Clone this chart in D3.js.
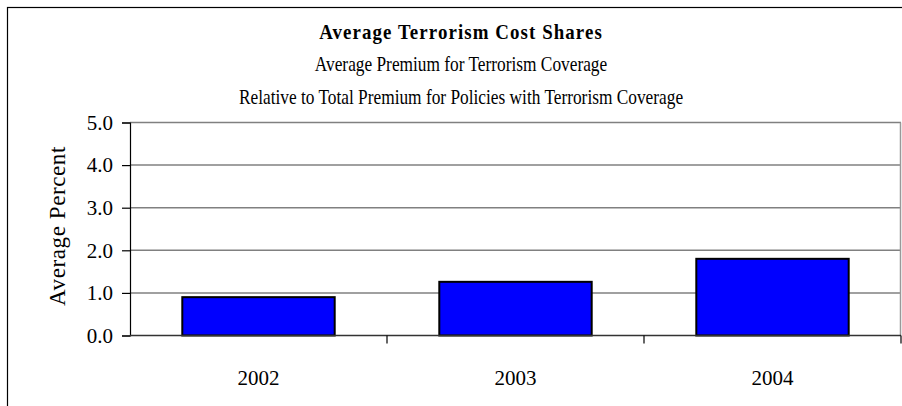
<!DOCTYPE html>
<html><head><meta charset="utf-8">
<script src="https://cdn.jsdelivr.net/npm/d3@7"></script>
<style>body{margin:0;background:#fff;} svg{display:block;}</style>
</head><body>
<script>
const categories = ["2002", "2003", "2004"];
const values = [0.9, 1.26, 1.8];
const yTicks = [0, 1, 2, 3, 4, 5];
const titleLines = ["Average Terrorism Cost Shares", "Average Premium for Terrorism Coverage", "Relative to Total Premium for Policies with Terrorism Coverage"];
const yLabel = "Average Percent";

const W = 902, H = 406;
const m = {left:130, right:1, top:122.5, bottom:70.5};
const svg = d3.select("body").append("svg").attr("width", W).attr("height", H);
const font = "'Liberation Serif', 'Times New Roman', serif";

// outer frame
svg.append("rect").attr("x", 7.5).attr("y", 7.5).attr("width", W).attr("height", H)
  .attr("fill", "none").attr("stroke", "#000").attr("stroke-width", 1.2);

const x = d3.scaleBand().domain(categories).range([m.left, W - m.right]).paddingInner(0.407).paddingOuter(0.2035);
const y = d3.scaleLinear().domain([0, 5]).range([H - m.bottom, m.top]);

// gridlines
svg.append("g").selectAll("line").data(yTicks.filter(d => d > 0)).join("line")
  .attr("x1", m.left).attr("x2", W - m.right)
  .attr("y1", d => y(d)).attr("y2", d => y(d))
  .attr("stroke", "#808080").attr("stroke-width", 1.5);
// right frame edge
svg.append("line").attr("x1", W - m.right - 0.5).attr("x2", W - m.right - 0.5)
  .attr("y1", y(5)).attr("y2", y(0)).attr("stroke", "#999").attr("stroke-width", 1.5);

// bars
svg.append("g").selectAll("rect").data(values).join("rect")
  .attr("x", (d, i) => x(categories[i]))
  .attr("width", x.bandwidth())
  .attr("y", d => y(d))
  .attr("height", d => y(0) - y(d))
  .attr("fill", "#0000ff").attr("stroke", "#000").attr("stroke-width", 2);

// y axis
const yAxis = d3.axisLeft(y).tickValues(yTicks).tickFormat(d3.format(".1f")).tickSizeOuter(0).tickSize(8).tickPadding(9);
const gy = svg.append("g").attr("transform", `translate(${m.left},0)`).call(yAxis);
gy.select(".domain").attr("stroke", "#000").attr("stroke-width", 1.2);
gy.selectAll(".tick line").attr("stroke", "#000").attr("stroke-width", 1.2);
gy.selectAll("text").attr("font-family", font).attr("font-size", 21).attr("fill", "#000");

// x axis baseline + ticks at band boundaries
const xb = svg.append("g");
xb.append("line").attr("x1", m.left).attr("x2", W - m.right).attr("y1", y(0)).attr("y2", y(0))
  .attr("stroke", "#333").attr("stroke-width", 1.5);
const bounds = categories.map(c => x(c) - x.step() * x.paddingInner() / 2 + x.step());
xb.selectAll("line.tk").data(bounds).join("line").attr("class", "tk")
  .attr("x1", d => d).attr("x2", d => d).attr("y1", y(0)).attr("y2", y(0) + 8)
  .attr("stroke", "#000").attr("stroke-width", 1.2);
xb.selectAll("text").data(categories).join("text")
  .attr("x", d => x(d) + x.bandwidth() / 2).attr("y", y(0) + 49)
  .attr("text-anchor", "middle").attr("font-family", font).attr("font-size", 21).attr("fill", "#000")
  .text(d => d);

// y label
svg.append("text").attr("transform", `translate(65,226) rotate(-90)`)
  .attr("text-anchor", "middle").attr("font-family", font).attr("font-size", 23)
  .attr("letter-spacing", 0.6).attr("fill", "#000")
  .text(yLabel);

// titles (slightly condensed like the original)
const ty = [39, 71, 104];
svg.selectAll("text.title").data(titleLines).join("text").attr("class", "title")
  .attr("transform", (d, i) => `translate(461,${ty[i]}) scale(${i === 0 ? 0.9 : 0.845},1)`)
  .attr("x", 0).attr("y", 0).attr("text-anchor", "middle")
  .attr("font-family", font).attr("font-size", (d, i) => i === 0 ? 21 : 20.5)
  .attr("font-weight", (d, i) => i === 0 ? "bold" : "normal")
  .attr("letter-spacing", (d, i) => i === 0 ? 1.2 : 0)
  .attr("fill", "#000").text(d => d);
</script>
</body></html>
